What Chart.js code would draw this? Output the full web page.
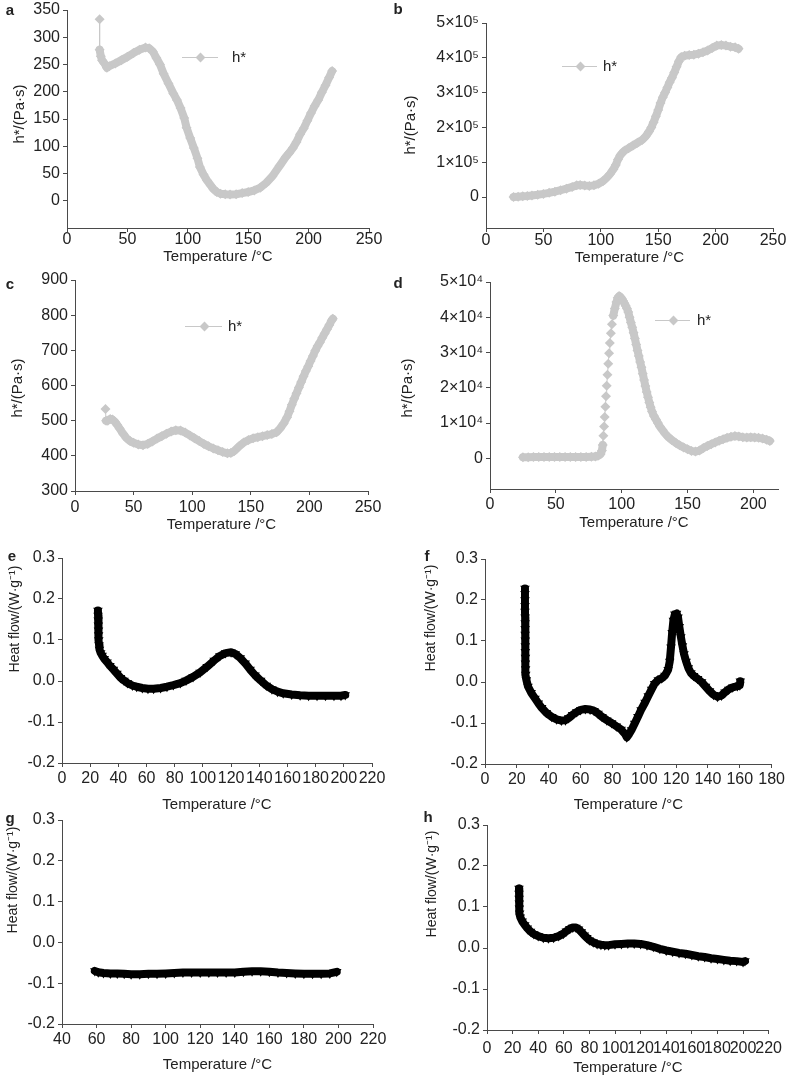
<!DOCTYPE html>
<html>
<head>
<meta charset="utf-8">
<script src="https://cdn.jsdelivr.net/npm/chart.js@4.4.1/dist/chart.umd.min.js"></script>
<style>
  body { margin: 0; background: #fff; width: 789px; height: 1079px; position: relative; overflow: hidden;
         font-family: "Liberation Sans", Arial, sans-serif; color: #222; }
  canvas { position: absolute; }
  .letter { position: absolute; font-size: 15px; font-weight: bold; transform: translate(-50%, -50%); }
  .ytitle { position: absolute; white-space: nowrap; line-height: 16px;
            transform: translate(-50%, -50%) rotate(-90deg); }
  .leg { position: absolute; font-size: 15px; line-height: 14px; }
</style>
</head>
<body>
<script>
// ---- data ----
// a
const aTemp = [27,27,28,29,31,33,35,40,45,50,55,60,65,68,71,74,77,80,84,88,91,94,97,99,102,105,108,110,113,116,119,121,124,127,131,135,140,145,150,155,160,165,170,176,181,184,187,190,193,196,199,202,205,208,211,214,217,219.5];
const aEta = [333,277,265,258,252,244,247,252,258,264,271,277,281,280,274,262,250,233,215,197,185,170,152,134,115,97,78,62,48,37,28,22,16,13,12,11.5,12,14,16,19,24,33,45,64,80,88,97,108,122,133,147,161,174,185,199,212,226,238];
// b
const bTemp = [24,28,32,36,40,45,50,55,60,65,70,75,79,82,86,90,94,98,102,105,108,111,113,115,117,119,121,124,128,132,136,139,142,144,146,148,150,152,154,156,158,160,162,164,166,168,170,173,177,181,185,189,193,197,201,205,209,213,217,220];
const bEta = [0,1000,2000,3000,4500,6500,9000,12000,15500,19500,24000,29000,33500,34500,33000,32000,33500,38000,46000,55000,66000,80000,92000,108000,120000,128000,134000,140000,148000,156000,164000,174000,188000,200000,215000,232000,250000,270000,287000,300000,315000,330000,343000,358000,374000,390000,402000,406000,408000,409000,412000,416000,421000,428000,435000,437000,435000,432000,430000,426000];
// c
const cTemp = [26,26.5,28,30,32,34,36,38,41,44,47,50,54,58,62,66,70,74,78,82,86,90,94,98,102,106,110,114,118,122,126,130,133,136,140,144,148,152,156,160,164,168,172,175,178,181,183,185,187,189,191,193,195,197,199,201,203,205,207,209,211,213,215,217,219,220];
const cEta = [533,500,500,505,503,497,488,478,463,450,442,437,432,430,434,441,449,456,463,469,473,472,466,458,450,442,434,427,421,416,411,407,408,414,427,438,445,450,453,456,459,462,467,478,492,510,527,545,562,578,594,610,626,641,655,670,684,699,712,723,736,748,760,772,785,790];
// d
const dTemp = [25,29,33,37,41,45,49,53,57,61,65,69,73,77,80,82,84,85,85.6,86.1,86.6,87.1,87.6,88.1,88.6,89.2,89.8,90.4,91,91.8,92.6,93.6,94.8,96,97,98,99,100,101,102,103,104,105,106,107,108,109,110,111,112,113,114,115,116,117,118,119,120,121,122,123,124.5,126,127.5,129,131,133,135.5,138,141,144,147,150,153,156,159,162,165,168,171,174,177,180,183,186,189,192,195,198,201,204,207,210,212.5];
const dEta = [300,300,350,350,350,350,350,350,350,350,350,400,400,450,500,700,1200,2200,3800,6400,9000,11700,14600,17600,20600,23700,26800,29800,32700,35500,38000,40500,42500,44300,45500,46000,45800,45300,44700,44000,43300,42500,41500,40000,38500,37200,35600,34000,32300,30600,29000,27300,25800,24000,22200,20500,18800,17300,15800,14500,13300,12000,11000,10000,9000,8000,7000,6000,5200,4400,3700,3100,2600,2100,1900,2200,2900,3500,4000,4500,5000,5400,5800,6100,6300,6200,6000,5900,6000,5900,5800,5600,5300,4900];
// e
const eTemp = [25.5,25.6,25.7,25.8,25.9,26,26.1,26.3,26.6,27.5,28.5,30,32,34,36.5,39,41.5,44,46.5,50,53,57,61,65,70,74.5,79,84,88,93,98,103,108,112,116,120,123,126.5,130,133.5,137,141,145,149,153,157,163,169,175,181,187,193,198,201];
const eHeat = [0.172,0.160,0.148,0.136,0.124,0.112,0.100,0.088,0.077,0.068,0.062,0.054,0.046,0.037,0.028,0.018,0.008,0.001,-0.005,-0.011,-0.014,-0.017,-0.019,-0.019,-0.017,-0.014,-0.010,-0.005,0.001,0.010,0.021,0.035,0.050,0.061,0.068,0.070,0.066,0.056,0.043,0.028,0.014,0.001,-0.011,-0.020,-0.026,-0.030,-0.033,-0.035,-0.036,-0.036,-0.036,-0.036,-0.036,-0.034];
// f
const fTemp = [25.1,25.1,25.1,25.1,25.1,25.2,25.2,25.2,25.2,25.3,25.3,25.3,25.4,25.4,25.5,25.6,26,27,29,31.4,33.5,35.6,38.5,41.9,45,48,50.5,52.5,55,57.6,60,63,66,68.5,71,73.5,76.5,79.5,82.5,85.5,88,89,90.5,92,94,96,98,100.5,102.5,104.6,106.5,108.8,111,113,115,116,116.8,117.5,118.3,119.2,120.3,121.2,122,123,124,125,126.3,127.7,129.3,131,133.5,136,138.5,141,143.5,146,148.5,150.7,153,155.5,158.5,160,160.3];
const fHeat = [0.228,0.215,0.200,0.186,0.172,0.158,0.144,0.130,0.116,0.102,0.088,0.074,0.060,0.046,0.032,0.018,0.005,-0.011,-0.026,-0.040,-0.052,-0.063,-0.075,-0.085,-0.091,-0.094,-0.093,-0.088,-0.080,-0.073,-0.068,-0.066,-0.067,-0.070,-0.077,-0.085,-0.093,-0.100,-0.108,-0.116,-0.127,-0.135,-0.127,-0.117,-0.101,-0.085,-0.068,-0.050,-0.034,-0.018,-0.004,0.005,0.009,0.016,0.030,0.050,0.085,0.120,0.150,0.165,0.167,0.158,0.135,0.110,0.088,0.068,0.050,0.034,0.022,0.015,0.008,0.000,-0.011,-0.022,-0.031,-0.036,-0.033,-0.025,-0.018,-0.013,-0.010,-0.008,0.002];
// g
const gTemp = [59,61,64,68,72,76,80,85,90,95,100,105,110,115,120,125,130,135,140,145,150,155,160,165,170,175,180,185,190,195,199];
const gHeat = [-0.070,-0.073,-0.075,-0.076,-0.076,-0.077,-0.078,-0.078,-0.077,-0.077,-0.076,-0.075,-0.074,-0.074,-0.074,-0.074,-0.074,-0.074,-0.074,-0.072,-0.071,-0.071,-0.072,-0.074,-0.075,-0.076,-0.077,-0.077,-0.077,-0.076,-0.072];
// h
const hTemp = [25,25,25.1,25.2,25.3,25.5,26,27.5,29.5,31.5,34,36.6,40,44,48,52,56,59.6,62,64.7,67,69.5,71.5,73.7,76,78,80,83,86,89,92,95,100,105,110,115,120,125,130,135,140,145,150,155,160,165,170,175,180,185,190,195,200,201.5];
const hHeat = [0.145,0.133,0.121,0.109,0.097,0.085,0.075,0.065,0.056,0.048,0.040,0.034,0.029,0.025,0.024,0.025,0.029,0.035,0.041,0.047,0.050,0.050,0.046,0.039,0.031,0.025,0.019,0.014,0.010,0.008,0.007,0.007,0.009,0.010,0.011,0.011,0.010,0.007,0.003,-0.002,-0.006,-0.009,-0.012,-0.014,-0.017,-0.020,-0.022,-0.025,-0.027,-0.029,-0.031,-0.032,-0.034,-0.032];

// ---- tick values and labels ----
const temp250Ticks = [0,50,100,150,200,250];
const temp200Ticks = [0,50,100,150,200];
const temp220Ticks = [0,20,40,60,80,100,120,140,160,180,200,220];
const temp180Ticks = [0,20,40,60,80,100,120,140,160,180];
const temp40to220Ticks = [40,60,80,100,120,140,160,180,200,220];
const aYTicks = [0,50,100,150,200,250,300,350];
const bYTicks = [0,100000,200000,300000,400000,500000];
const bYLabels = ["0","1×10⁵","2×10⁵","3×10⁵","4×10⁵","5×10⁵"];
const cYTicks = [300,400,500,600,700,800,900];
const dYTicks = [0,10000,20000,30000,40000,50000];
const dYLabels = ["0","1×10⁴","2×10⁴","3×10⁴","4×10⁴","5×10⁴"];
const heatTicks = [-0.2,-0.1,0,0.1,0.2,0.3];
const heatLabels = ["-0.2","-0.1","0.0","0.1","0.2","0.3"];

Chart.defaults.font.family = '"Liberation Sans", Arial, sans-serif';
Chart.defaults.color = "#222";

const GRAY = "rgb(200,200,200)";
const AXIS = "#4a4a4a";

// segments longer than thinGap px are drawn as a thin connector, others as a thick band
function bandWidth(thinGap, thick) {
  return (ctx) => {
    const dx = ctx.p1.x - ctx.p0.x;
    const dy = ctx.p1.y - ctx.p0.y;
    return Math.hypot(dx, dy) > thinGap ? 1 : thick;
  };
}

function axis(ticks, labels, min, max) {
  return {
    type: "linear",
    min: min,
    max: max,
    afterBuildTicks: (scale) => { scale.ticks = ticks.map((v) => ({ value: v })); },
    grid: { display: true, drawOnChartArea: false, drawTicks: true, tickLength: 4, color: AXIS },
    border: { display: true, color: AXIS, width: 1 },
    ticks: {
      autoSkip: false, maxRotation: 0, minRotation: 0, padding: 3,
      color: "#222", font: { size: 16, lineHeight: 0.875 },
      callback: (v, i) => labels[i],
    },
  };
}

function makePanel(p) {
  const cv = document.createElement("canvas");
  cv.width = p.box[2];
  cv.height = p.box[3];
  cv.style.left = p.box[0] + "px";
  cv.style.top = p.box[1] + "px";
  document.body.appendChild(cv);

  const xs = axis(p.xTicks, p.xTicks.map(String), p.xRange[0], p.xRange[1]);
  xs.ticks.padding = p.xPad;
  xs.ticks.font = { size: 16, lineHeight: 1 };
  xs.afterFit = (s) => { s.height = p.box[1] + p.box[3] - p.area[3]; };
  xs.title = {
    display: true, text: "Temperature /°C", color: "#222",
    font: { size: 15, lineHeight: 1.2 },
    padding: { top: 0, bottom: p.box[1] + p.box[3] - p.titleY - 9 },
  };
  const ys = axis(p.yTicks, p.yLabels, p.yRange[0], p.yRange[1]);
  ys.afterFit = (s) => { s.width = p.area[0] - p.box[0]; };

  const black = p.style === "black";
  new Chart(cv, {
    type: "line",
    data: {
      datasets: [{
        label: p.label,
        data: p.xs.map((t, i) => ({ x: t, y: p.ys[i] })),
        borderColor: black ? "#000" : GRAY,
        backgroundColor: black ? "#000" : GRAY,
        borderWidth: 8,
        borderJoinStyle: "round",
        borderCapStyle: "round",
        tension: 0,
        pointStyle: black ? "triangle" : "rectRot",
        pointRotation: black ? 180 : 0,
        pointRadius: black ? 5.5 : 5,
        pointBorderWidth: 0,
        pointBackgroundColor: black ? "#000" : GRAY,
        segment: { borderWidth: bandWidth(p.thinGap, 8) },
      }],
    },
    options: {
      responsive: false,
      animation: false,
      layout: {
        padding: {
          left: 0,
          top: p.area[1] - p.box[1],
          right: p.box[0] + p.box[2] - p.area[2],
          bottom: 0,
        },
      },
      plugins: { legend: { display: false }, tooltip: { enabled: false } },
      scales: { x: xs, y: ys },
    },
  });
}

function addText(cls, txt, x, y, size) {
  const d = document.createElement("div");
  d.className = cls;
  d.textContent = txt;
  d.style.left = x + "px";
  d.style.top = y + "px";
  if (size) d.style.fontSize = size + "px";
  document.body.appendChild(d);
}

function addLegend(x0, x1, y, mx, tx) {
  const line = document.createElement("div");
  line.style.cssText = `position:absolute;left:${x0}px;top:${y}px;width:${x1 - x0}px;height:1px;background:${GRAY}`;
  document.body.appendChild(line);
  const dia = document.createElement("div");
  dia.style.cssText = `position:absolute;left:${mx - 3.5}px;top:${y - 3}px;width:7px;height:7px;background:${GRAY};transform:rotate(45deg)`;
  document.body.appendChild(dia);
  addText("leg", "h*", tx, y - 7);
}

const ETA = "h*/(Pa·s)";
const HEAT = "Heat flow/(W·g⁻¹)";

const panels = [
  { box: [0, 0, 395, 270], area: [67, 7, 369, 228], xRange: [0, 250], yRange: [-50, 350],
    xTicks: temp250Ticks, yTicks: aYTicks, yLabels: aYTicks.map(String), xPad: 0, titleY: 257,
    xs: aTemp, ys: aEta, thinGap: 20, style: "gray", label: "h*" },
  { box: [395, 0, 394, 270], area: [486, 23, 773, 228], xRange: [0, 250], yRange: [-89000, 500000],
    xTicks: temp250Ticks, yTicks: bYTicks, yLabels: bYLabels, xPad: 1, titleY: 258,
    xs: bTemp, ys: bEta, thinGap: Infinity, style: "gray", label: "h*" },
  { box: [0, 270, 395, 270], area: [75, 280, 368, 491], xRange: [0, 250], yRange: [300, 900],
    xTicks: temp250Ticks, yTicks: cYTicks, yLabels: cYTicks.map(String), xPad: 5, titleY: 525,
    xs: cTemp, ys: cEta, thinGap: 10, style: "gray", label: "h*" },
  { box: [395, 270, 394, 270], area: [490, 282, 778, 489], xRange: [0, 218.7], yRange: [-8700, 50000],
    xTicks: temp200Ticks, yTicks: dYTicks, yLabels: dYLabels, xPad: 4, titleY: 523,
    xs: dTemp, ys: dEta, thinGap: 7.5, style: "gray", label: "h*" },
  { box: [0, 540, 395, 285], area: [62, 558, 372, 763], xRange: [0, 220], yRange: [-0.2, 0.3],
    xTicks: temp220Ticks, yTicks: heatTicks, yLabels: heatLabels, xPad: 4, titleY: 805,
    xs: eTemp, ys: eHeat, thinGap: Infinity, style: "black", label: "e" },
  { box: [395, 540, 394, 285], area: [485, 559, 772, 764], xRange: [0, 180], yRange: [-0.2, 0.3],
    xTicks: temp180Ticks, yTicks: heatTicks, yLabels: heatLabels, xPad: 4, titleY: 805,
    xs: fTemp, ys: fHeat, thinGap: Infinity, style: "black", label: "f" },
  { box: [0, 810, 395, 269], area: [62, 819, 373, 1024], xRange: [40, 220], yRange: [-0.2, 0.3],
    xTicks: temp40to220Ticks, yTicks: heatTicks, yLabels: heatLabels, xPad: 4, titleY: 1065,
    xs: gTemp, ys: gHeat, thinGap: Infinity, style: "black", label: "g" },
  { box: [395, 810, 394, 269], area: [487, 825, 773, 1030], xRange: [0, 220], yRange: [-0.2, 0.3],
    xTicks: temp220Ticks, yTicks: heatTicks, yLabels: heatLabels, xPad: 7, titleY: 1068,
    xs: hTemp, ys: hHeat, thinGap: Infinity, style: "black", label: "h" },
];

panels.forEach(makePanel);

// panel letters
addText("letter", "a", 10, 9);
addText("letter", "b", 398, 8);
addText("letter", "c", 10, 283);
addText("letter", "d", 398, 282);
addText("letter", "e", 12, 555);
addText("letter", "f", 427, 555);
addText("letter", "g", 10, 817);
addText("letter", "h", 428, 816);

// y axis titles
addText("ytitle", ETA, 19, 114, 15);
addText("ytitle", ETA, 410, 125, 15);
addText("ytitle", ETA, 17, 388, 15);
addText("ytitle", ETA, 407, 388, 15);
addText("ytitle", HEAT, 14, 619, 14);
addText("ytitle", HEAT, 430, 618, 14);
addText("ytitle", HEAT, 12, 880, 14);
addText("ytitle", HEAT, 431, 884, 14);

// legends
addLegend(182, 218, 57, 200, 232);
addLegend(562, 597, 66, 580, 603);
addLegend(185, 222, 326, 204, 228);
addLegend(655, 690, 320, 673, 697);
</script>
</body>
</html>
